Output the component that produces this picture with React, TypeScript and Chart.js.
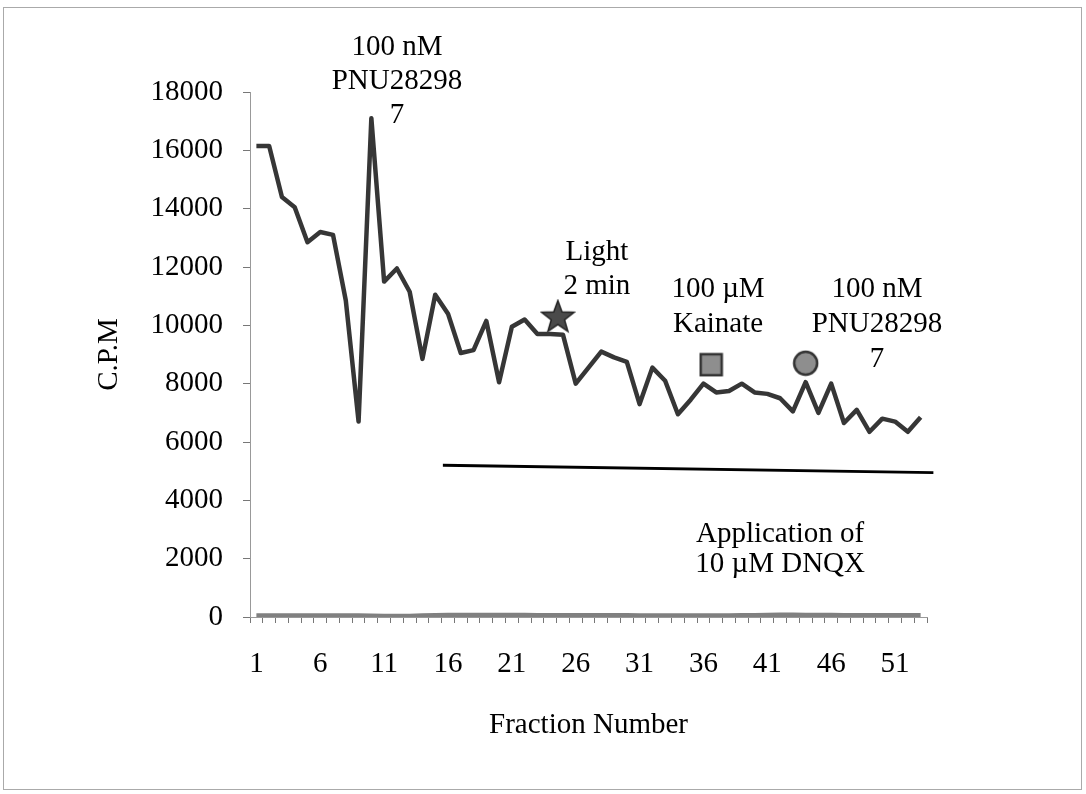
import React, { useEffect, useRef } from 'react';
import { Chart, registerables } from 'chart.js';

Chart.register(...registerables);

// ---------- data ----------
const FRACTIONS = [
  1, 2, 3, 4, 5, 6, 7, 8, 9, 10,
  11, 12, 13, 14, 15, 16, 17, 18, 19, 20,
  21, 22, 23, 24, 25, 26, 27, 28, 29, 30,
  31, 32, 33, 34, 35, 36, 37, 38, 39, 40,
  41, 42, 43, 44, 45, 46, 47, 48, 49, 50,
  51, 52, 53,
];

const CPM = [
  16150, 16150, 14400, 14050, 12850, 13200, 13100, 10850, 6700, 17100,
  11500, 11950, 11150, 8850, 11050, 10400, 9050, 9150, 10150, 8050,
  9950, 10200, 9700, 9700, 9680, 8000, 8550, 9100, 8900, 8750,
  7300, 8550, 8100, 6950, 7450, 8000, 7700, 7750, 8000, 7700,
  7650, 7500, 7050, 8050, 7000, 8000, 6650, 7100, 6350, 6800,
  6700, 6350, 6850,
];

const BASELINE_CPM = [
  40, 40, 40, 40, 40, 40, 40, 40, 40, 35,
  30, 30, 30, 40, 55, 60, 60, 60, 60, 60,
  60, 60, 55, 55, 55, 55, 55, 55, 55, 55,
  45, 45, 45, 45, 45, 45, 45, 45, 55, 55,
  60, 70, 70, 60, 60, 60, 55, 55, 55, 55,
  55, 55, 55,
];

const X_TICK_LABELS = ['1', '6', '11', '16', '21', '26', '31', '36', '41', '46', '51'];
const Y_MIN = 0;
const Y_MAX = 18000;
const Y_STEP = 2000;

// DNQX application bar (start / end)
const DNQX_X = [15.6, 54];
const DNQX_Y = [5200, 4950];

// treatment markers
const MARKER_X = [24.6, 36.6, 44.0];
const MARKER_Y = [10300, 8650, 8700];
const MARKER_KINDS = ['star', 'square', 'circle'];

// annotations (anchor = centre of first line, in data units)
const NOTE_LINES = [
  ['100 nM', 'PNU28298', '7'],
  ['Light', '2 min'],
  ['100 µM', 'Kainate'],
  ['100 nM', 'PNU28298', '7'],
  ['Application of', '10 µM DNQX'],
];
const NOTE_X = [12.0, 27.66, 37.14, 49.58, 42.0];
const NOTE_Y = [19530, 12500, 11240, 11240, 2830];

// ---------- styling ----------
const FONT_FAMILY = '"Liberation Serif", "Times New Roman", serif';
const FONT_SIZE = 29;
const TEXT_COLOR = '#000';
const NOTE_LINE_GAPS = [34, 34, 35, 35, 30];

function makeMarker(kind: string): HTMLCanvasElement {
  const c = document.createElement('canvas');
  if (kind === 'star') {
    const s = 36;
    c.width = s; c.height = s;
    const g = c.getContext('2d')!;
    const cx = s / 2, cy = s / 2 + 1, R = 17, r = 7;
    g.beginPath();
    for (let i = 0; i < 10; i++) {
      const ang = -Math.PI / 2 + (i * Math.PI) / 5;
      const rad = i % 2 === 0 ? R : r;
      const px = cx + rad * Math.cos(ang);
      const py = cy + rad * Math.sin(ang);
      if (i === 0) g.moveTo(px, py); else g.lineTo(px, py);
    }
    g.closePath();
    g.fillStyle = '#4a4a4a';
    g.fill();
    g.lineWidth = 1.5;
    g.strokeStyle = '#222';
    g.stroke();
  } else if (kind === 'square') {
    const s = 25;
    c.width = s; c.height = s;
    const g = c.getContext('2d')!;
    g.fillStyle = '#8e8e8e';
    g.fillRect(2, 2, s - 4, s - 4);
    g.lineWidth = 2.5;
    g.strokeStyle = '#333';
    g.strokeRect(2, 2, s - 4, s - 4);
  } else {
    const s = 27;
    c.width = s; c.height = s;
    const g = c.getContext('2d')!;
    g.beginPath();
    g.arc(s / 2, s / 2, 11.5, 0, Math.PI * 2);
    g.fillStyle = '#8e8e8e';
    g.fill();
    g.lineWidth = 2.5;
    g.strokeStyle = '#333';
    g.stroke();
  }
  return c;
}

const framePlugin = {
  id: 'frame',
  beforeDraw(chart: any) {
    const ctx = chart.ctx;
    ctx.save();
    ctx.fillStyle = '#fff';
    ctx.fillRect(0, 0, chart.width, chart.height);
    ctx.strokeStyle = '#aaa';
    ctx.lineWidth = 1;
    ctx.strokeRect(3.5, 7.5, 1078, 782);
    ctx.restore();
  },
};

const notesPlugin = {
  id: 'notes',
  afterDatasetsDraw(chart: any) {
    const ctx = chart.ctx;
    const xs = chart.scales.x;
    const ys = chart.scales.y;
    ctx.save();
    ctx.font = `${FONT_SIZE}px ${FONT_FAMILY}`;
    ctx.fillStyle = TEXT_COLOR;
    ctx.textAlign = 'center';
    ctx.textBaseline = 'middle';
    NOTE_LINES.forEach((lines, i) => {
      const px = xs.getPixelForValue(NOTE_X[i]);
      const py = ys.getPixelForValue(NOTE_Y[i]);
      lines.forEach((t, j) => ctx.fillText(t, px, py + j * NOTE_LINE_GAPS[i]));
    });
    ctx.restore();
  },
};

export default function App() {
  const ref = useRef<HTMLCanvasElement>(null);

  useEffect(() => {
    const canvas = ref.current!;
    const font = { family: FONT_FAMILY, size: FONT_SIZE };
    const markerImages = MARKER_KINDS.map(makeMarker);

    const chart = new Chart(canvas, {
      type: 'line',
      data: {
        datasets: [
          {
            label: 'baseline',
            data: FRACTIONS.map((f, i) => ({ x: f, y: BASELINE_CPM[i] })),
            borderColor: '#808080',
            borderWidth: 5,
            pointRadius: 0,
            tension: 0,
          },
          {
            label: 'C.P.M',
            data: FRACTIONS.map((f, i) => ({ x: f, y: CPM[i] })),
            borderColor: '#363636',
            borderWidth: 4.5,
            borderJoinStyle: 'round',
            pointRadius: 0,
            tension: 0,
          },
          {
            label: 'DNQX',
            data: DNQX_X.map((x, i) => ({ x, y: DNQX_Y[i] })),
            borderColor: '#000',
            borderWidth: 3,
            pointRadius: 0,
            tension: 0,
            clip: false,
          },
          {
            label: 'markers',
            data: MARKER_X.map((x, i) => ({ x, y: MARKER_Y[i] })),
            showLine: false,
            pointStyle: markerImages as any,
            pointRadius: 10,
            borderColor: '#333',
            backgroundColor: '#999',
          },
        ] as any,
      },
      options: {
        responsive: false,
        animation: false,
        devicePixelRatio: 1,
        layout: { padding: { left: 0, right: 159, top: 92, bottom: 0 } },
        plugins: {
          legend: { display: false },
          tooltip: { enabled: false },
        },
        scales: {
          x: {
            type: 'linear',
            min: 0.5,
            max: 53.5,
            afterFit: (s: any) => { s.height = 177; },
            ticks: {
              stepSize: 0.5,
              autoSkip: false,
              maxRotation: 0,
              minRotation: 0,
              padding: 24,
              font,
              color: TEXT_COLOR,
              callback: (v: any) => (X_TICK_LABELS.includes(String(v)) ? String(v) : ''),
            },
            grid: {
              display: true,
              drawOnChartArea: false,
              drawTicks: true,
              tickLength: 6,
              tickColor: (c: any) =>
                c.tick && Math.abs((c.tick.value % 1) - 0.5) < 1e-6 ? '#777' : 'rgba(0,0,0,0)',
            },
            border: { display: true, color: '#999', width: 1 },
            title: {
              display: true,
              text: 'Fraction Number',
              font,
              color: TEXT_COLOR,
              padding: { top: 0, bottom: 51 },
            },
          },
          y: {
            min: Y_MIN,
            max: Y_MAX,
            afterFit: (s: any) => { s.width = 250; },
            ticks: {
              stepSize: Y_STEP,
              padding: 20,
              font,
              color: TEXT_COLOR,
              callback: (v: any) => String(v),
            },
            grid: {
              display: true,
              drawOnChartArea: false,
              drawTicks: true,
              tickLength: 7,
              tickColor: '#777',
            },
            border: { display: true, color: '#999', width: 1 },
            title: {
              display: true,
              text: 'C.P.M',
              font,
              color: TEXT_COLOR,
              padding: { top: 92, bottom: 0 },
            },
          },
        },
      },
      plugins: [framePlugin, notesPlugin],
    } as any);

    return () => chart.destroy();
  }, []);

  return (
    <div style={{ position: 'absolute', left: 0, top: 0, width: 1086, height: 794, background: '#fff' }}>
      <canvas ref={ref} width={1086} height={794} style={{ width: 1086, height: 794, display: 'block' }} />
    </div>
  );
}
